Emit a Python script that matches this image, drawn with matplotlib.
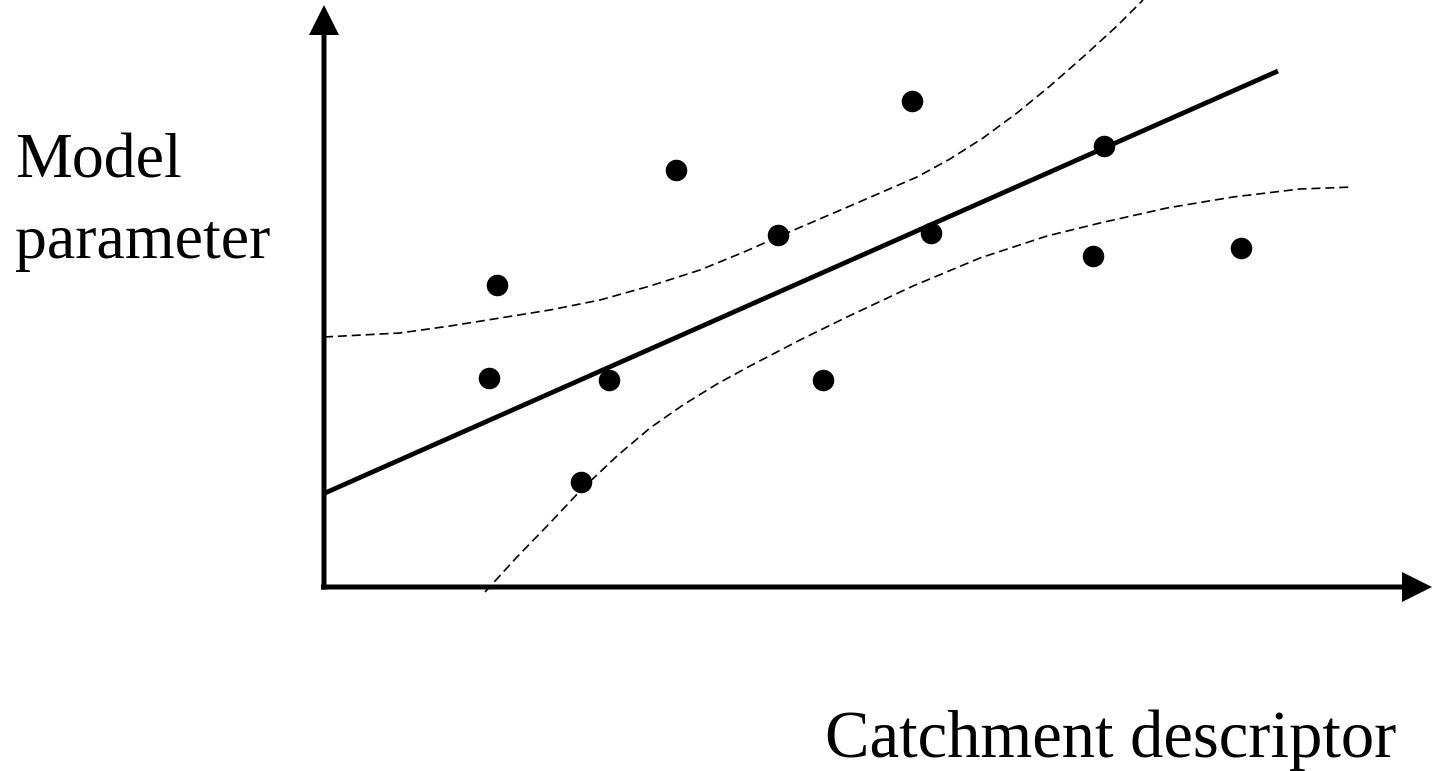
import matplotlib
matplotlib.use("Agg")
import matplotlib.pyplot as plt
from matplotlib.patches import FancyArrow

plt.rcParams['lines.scale_dashes'] = False

# ---- data (descriptor / parameter units, origin at the axes corner) ----
pts_x = [165, 173, 257, 285, 352, 454, 499, 588, 607, 769, 780, 917]
pts_y = [209, 302, 105, 207, 417, 352, 207, 486, 354, 331, 441, 339]

reg_x = [1, 954]
reg_y = [94, 516]

upper_x = [0, 76, 126, 176, 226, 276, 326, 376, 420, 463, 526, 593, 626, 659,
           693, 726, 759, 793, 819]
upper_y = [250, 254, 261, 269, 277, 287, 301, 317, 335, 354, 381, 410, 428, 449,
           474, 501, 530, 561, 587]

lower_x = [161, 193, 226, 257, 293, 326, 359, 393, 426, 476, 523, 589, 656, 723,
           776, 843, 909, 976, 1029]
lower_y = [-5, 30, 64, 97, 131, 159, 182, 203, 221, 247, 270, 301, 329, 351,
           364, 379, 390, 398, 400]

ylabel_lines = ["Model", "parameter"]
xlabel = "Catchment descriptor"

# ---- figure ----
fig = plt.figure(figsize=(14.33, 7.71), dpi=100)
ax = fig.add_axes([0, 0, 1, 1])
ax.set_xlim(-324, 1109)
ax.set_ylim(-184, 587)
ax.axis('off')

# axes with arrows
ax.add_patch(FancyArrow(0, -2.5, 0, 584.5, width=5, head_width=30, head_length=30,
                        length_includes_head=True, color='black', lw=0))
ax.add_patch(FancyArrow(-3, 0, 1111, 0, width=5, head_width=30, head_length=30,
                        length_includes_head=True, color='black', lw=0))

# confidence bands
ax.plot(upper_x, upper_y, color='black', lw=1.2, dashes=(6.5, 3.5))
ax.plot(lower_x, lower_y, color='black', lw=1.2, dashes=(6.5, 3.5))

# regression line
ax.plot(reg_x, reg_y, color='black', lw=3.4, solid_capstyle='butt')

# points
ax.plot(pts_x, pts_y, 'o', color='black', ms=14.5, mec='black')

font = ['Liberation Serif', 'DejaVu Serif']
ax.text(-309, 409, ylabel_lines[0], family=font, fontsize=46, va='baseline', ha='left')
ax.text(-309, 329, ylabel_lines[1], family=font, fontsize=46, va='baseline', ha='left')
ax.text(501, -170, xlabel, family=font, fontsize=48, va='baseline', ha='left')

fig.savefig("out.png", dpi=100)
